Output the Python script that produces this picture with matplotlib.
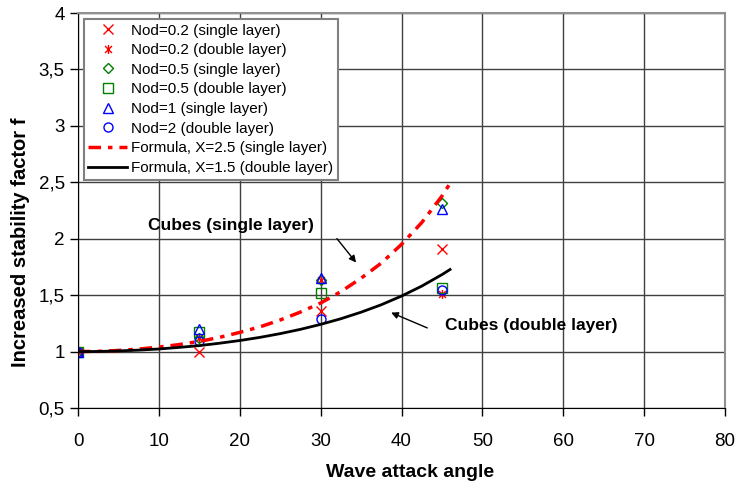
import numpy as np
import matplotlib.pyplot as plt
from matplotlib.path import Path

plt.rcParams['font.family'] = ['Liberation Sans', 'DejaVu Sans']

# Measured points (wave attack angle in degrees)
angles = [0, 15, 30, 45]
nod02_single = [1.0, 1.0, 1.36, 1.91]
nod02_double = [1.0, 1.12, 1.63, 1.51]
nod05_single = [1.0, 1.12, 1.63, 2.32]
nod05_double = [1.0, 1.17, 1.52, 1.56]
nod1_single = [1.0, 1.20, 1.65, 2.26]
nod2_double = [1.0, 1.09, 1.29, 1.55]

# Formula curves
curve_angles = [0, 2.5, 5, 7.5, 10, 12.5, 15, 17.5, 20, 22.5, 25, 27.5, 30,
                32.5, 35, 37.5, 40, 42.5, 45, 46]
formula_single = [1.0, 1.002, 1.01, 1.022, 1.04, 1.062, 1.09, 1.126, 1.17, 1.219, 1.28, 1.35, 1.43,
                  1.531, 1.65, 1.784, 1.95, 2.143, 2.378, 2.49]
formula_double = [1.0, 1.001, 1.006, 1.013, 1.023, 1.037, 1.053, 1.074, 1.098, 1.126, 1.159, 1.197, 1.241,
                  1.291, 1.349, 1.415, 1.492, 1.58, 1.682, 1.727]

xticks = [0, 10, 20, 30, 40, 50, 60, 70, 80]
yticks = [0.5, 1, 1.5, 2, 2.5, 3, 3.5, 4]

# asterisk marker: an x with a vertical stroke
star = Path([(-1, -1), (1, 1), (1, -1), (-1, 1), (0, -1.3), (0, 1.3)],
            [Path.MOVETO, Path.LINETO, Path.MOVETO, Path.LINETO, Path.MOVETO, Path.LINETO])

fig = plt.figure(figsize=(7.38, 4.93), dpi=100)
ax = fig.add_axes([0.1057, 0.1724, 0.8767, 0.8012])

ms = 6.5
ax.plot(angles, nod02_single, 'x', color='red', ms=ms, mew=1, label='Nod=0.2 (single layer)')
ax.plot(angles, nod02_double, linestyle='none', marker=star, color='red', ms=ms, mew=1,
        label='Nod=0.2 (double layer)')
ax.plot(angles, nod05_single, 'D', mfc='none', mec='green', ms=5.5, mew=1, label='Nod=0.5 (single layer)')
ax.plot(angles, nod05_double, 's', mfc='none', mec='green', ms=ms, mew=1, label='Nod=0.5 (double layer)')
ax.plot(angles, nod1_single, '^', mfc='none', mec='blue', ms=ms, mew=1, label='Nod=1 (single layer)')
ax.plot(angles, nod2_double, 'o', mfc='none', mec='blue', ms=ms, mew=1, label='Nod=2 (double layer)')
ax.plot(curve_angles, formula_single, color='red', lw=2.5, linestyle=(0, (3.6, 2.0, 1.3, 2.0)),
        label='Formula, X=2.5 (single layer)')
ax.plot(curve_angles, formula_double, color='black', lw=2, label='Formula, X=1.5 (double layer)')

ax.set_xlim(0, 80)
ax.set_ylim(0.5, 4)
ax.set_xticks(xticks)
ax.set_yticks(yticks)
ax.set_xticklabels([str(t) for t in xticks])
ax.set_yticklabels([('%g' % t).replace('.', ',') for t in yticks])
ax.tick_params(labelsize=13.5, length=6, width=1, direction='out', color='black')
ax.tick_params(axis='x', pad=12)
ax.grid(True, color='#404040', lw=1)
ax.set_axisbelow(True)

for side in ['left', 'bottom']:
    ax.spines[side].set_color('black')
for side in ['top', 'right']:
    ax.spines[side].set_color('#909090')
    ax.spines[side].set_linewidth(1.5)

ax.set_xlabel('Wave attack angle', fontsize=14, fontweight='bold')
ax.set_ylabel('Increased stability factor f', fontsize=14.5, fontweight='bold')
ax.xaxis.set_label_coords(0.513, -0.143)
ax.yaxis.set_label_coords(-0.074, 0.42)

ax.annotate('', xy=(34.6, 1.77), xytext=(31.8, 2.02),
            arrowprops=dict(arrowstyle='-|>', color='black', lw=1, mutation_scale=10))
ax.text(18.9, 2.12, 'Cubes (single layer)', fontsize=12.5, fontweight='bold', ha='center', va='center')
ax.annotate('', xy=(38.4, 1.355), xytext=(43.5, 1.20),
            arrowprops=dict(arrowstyle='-|>', color='black', lw=1, mutation_scale=10))
ax.text(56.0, 1.23, 'Cubes (double layer)', fontsize=12.5, fontweight='bold', ha='center', va='center')

leg = ax.legend(loc='upper left', bbox_to_anchor=(0.009, 0.985), borderaxespad=0, fontsize=11,
                labelspacing=0.37, handlelength=2.5, handletextpad=0.3, borderpad=0.3,
                fancybox=False, framealpha=1, edgecolor='#808080')
leg.get_frame().set_linewidth(1.5)

fig.savefig('out.png', dpi=100)
